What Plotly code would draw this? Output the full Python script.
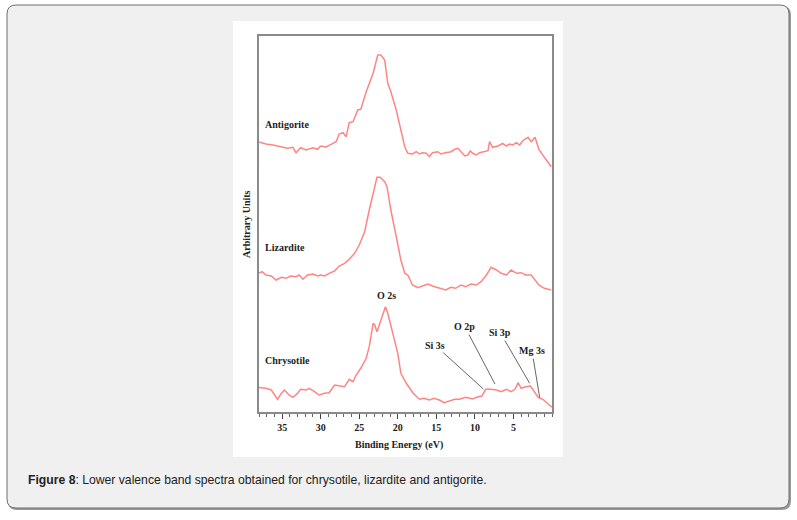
import plotly.graph_objects as go

# ---------------- data (binding energy eV, arbitrary intensity) ----------------
antigorite_e = [38.1, 37.1, 36.2, 35.4, 34.3, 33.6, 33.2, 32.6, 31.9, 31.0, 30.4, 30.0, 29.3, 28.4,
                28.0, 27.6, 27.1, 26.7, 26.3, 25.8, 25.2, 24.8, 24.1, 23.2, 22.6, 22.2, 21.7, 21.3,
                20.9, 20.2, 19.6, 19.1, 18.7, 18.1, 17.6, 17.2, 16.8, 16.3, 15.9, 15.5, 14.8, 14.4,
                13.8, 13.1, 12.6, 12.2, 11.8, 11.3, 10.9, 10.6, 10.3, 9.8, 9.4, 8.7, 8.3, 8.1, 7.7,
                7.0, 6.4, 5.9, 5.5, 5.1, 4.6, 4.2, 3.8, 3.1, 2.7, 2.2, 1.7, 0.9, 0.1]
antigorite_i = [270.3, 268, 267, 265.3, 263.7, 264.7, 259.3, 264.3, 262, 264.3, 262.7, 266, 265, 268.7,
                270.3, 278, 279.3, 275.3, 289.3, 290.3, 302, 302.7, 320.3, 338.7, 357, 357, 352, 328.7,
                320.3, 302, 282, 265.3, 258.7, 258, 260.3, 258, 259.3, 258.7, 255.3, 259.3, 260.3, 258,
                259.3, 260.3, 262.7, 263.7, 260.3, 256, 257, 261, 258.7, 257, 259.3, 261, 261.3, 270.3, 264.7,
                266, 268.7, 266, 268, 267, 269.3, 267, 271.3, 274.7, 270.3, 274.7, 262.7, 253.7, 245.3]

lizardite_e = [38.1, 37.6, 37.1, 36.4, 35.8, 35.1, 34.5, 33.9, 33.2, 32.8, 32.3, 31.7, 31.0, 30.4,
               30.0, 29.5, 28.9, 28.2, 27.6, 26.9, 26.3, 25.6, 25.0, 24.3, 23.7, 23.2, 22.7, 22.3,
               21.7, 21.4, 20.9, 20.2, 19.6, 19.1, 18.7, 18.1, 17.4, 16.8, 16.1, 15.5, 14.6, 13.8,
               13.1, 12.5, 11.8, 11.2, 10.5, 9.8, 9.2, 8.5, 7.9, 7.2, 6.6, 5.9, 5.3, 4.6, 4.0, 3.4,
               2.7, 2.1, 1.7, 1.0, 0.1]
lizardite_i = [138.7, 140.3, 137, 136, 132, 134.7, 133.7, 136, 135.3, 137, 132.7, 137, 138, 136,
               137, 136, 138.7, 141, 146, 148.7, 152.7, 158.7, 167, 180.3, 202, 218.7, 234.7, 234.7,
               230.3, 225.3, 202, 175.3, 152, 138.7, 137, 127, 124.3, 126, 128, 126, 123.7, 122,
               124.7, 123.7, 127, 125.3, 128, 127, 130.3, 137, 144.7, 142, 138.7, 137, 142, 138.7, 139.3, 137,
               137, 131.3, 127, 123.7, 122]

chrysotile_e = [38.1, 37.1, 36.4, 36.0, 35.6, 35.1, 34.7, 34.1, 33.6, 33.0, 32.6, 31.9, 31.5, 30.8,
                30.2, 29.5, 28.9, 28.2, 27.6, 26.9, 26.3, 25.8, 25.4, 24.8, 24.1, 23.7, 23.2, 23.0,
                22.7, 22.4, 21.9, 21.6, 21.3, 20.6, 20.0, 19.6, 18.9, 18.0, 17.2, 16.6, 15.9, 15.3,
                14.6, 14.0, 13.3, 12.6, 12.0, 11.2, 10.3, 9.6, 9.1, 8.6, 7.9, 7.2, 6.6, 5.9, 5.3,
                4.8, 4.4, 4.0, 3.4, 2.8, 2.3, 1.8, 1.2, 0.5, 0.0]
chrysotile_i = [24.7, 23.7, 22, 17, 12.7, 18.7, 22, 17, 14.7, 18.7, 22.7, 22, 23.7, 20.3,
                17, 18.7, 19.3, 27, 26, 25.3, 32.7, 30.3, 37, 43.7, 53.7, 65.3, 88.7, 87,
                80.3, 87, 98.7, 105.3, 98.7, 78.7, 58.7, 38.7, 28.7, 18.7, 12.7, 13.7, 12, 13.7,
                12, 9.3, 11.3, 12.7, 12.7, 14.7, 13, 15.3, 16, 22.7, 22.7, 22, 20.3, 22.7, 20.3,
                22.7, 29.3, 23.7, 25.3, 26, 20.3, 14.7, 12.7, 8, 4.7]

curve_names = ["Antigorite", "Lizardite", "Chrysotile"]
name_pos_e = 37.5
name_pos_i = [287.7, 164.7, 52.0]

x_ticks = [35, 30, 25, 20, 15, 10, 5]

# peak labels: (text, label energy, label intensity, tip energy, tip intensity)
peak_labels = ["Si 3s", "O 2p", "Si 3p", "Mg 3s"]
peak_label_e = [15.2, 11.3, 6.7, 2.6]
peak_label_i = [67.0, 85.3, 79.3, 61.3]
peak_tip_e = [8.9, 7.4, 2.9, 1.6]
peak_tip_i = [23.0, 28.0, 28.7, 14.7]
o2s_e, o2s_i = 21.5, 117.0

# ---------------- layout helpers ----------------
W, H = 797, 520
L, R, T, B = 259, 552, 36, 412


def px(x):
    return (x - L) / (R - L)


def py(y):
    return (B - y) / (B - T)


def rounded_path(x0, y0, x1, y1, r):
    rx = r / (R - L)
    ry = r / (B - T)
    X0, X1 = px(x0), px(x1)
    Y0, Y1 = py(y0), py(y1)  # Y0 top (larger), Y1 bottom
    return (f"M {X0+rx},{Y0} L {X1-rx},{Y0} Q {X1},{Y0} {X1},{Y0-ry} "
            f"L {X1},{Y1+ry} Q {X1},{Y1} {X1-rx},{Y1} L {X0+rx},{Y1} "
            f"Q {X0},{Y1} {X0},{Y1+ry} L {X0},{Y0-ry} Q {X0},{Y0} {X0+rx},{Y0} Z")


LINE_COLOR = "#ff8585"
SERIF = "Liberation Serif"

fig = go.Figure()
for e, i in [(antigorite_e, antigorite_i), (lizardite_e, lizardite_i), (chrysotile_e, chrysotile_i)]:
    fig.add_trace(go.Scatter(x=e, y=i, mode="lines",
                             line=dict(color=LINE_COLOR, width=1.5),
                             showlegend=False, hoverinfo="skip"))

shapes = [
    dict(type="path", xref="paper", yref="paper", path=rounded_path(8, 6, 791, 510, 9),
         fillcolor="#9a9a9a", line=dict(width=0), layer="below"),
    dict(type="path", xref="paper", yref="paper", path=rounded_path(7, 5, 789, 508, 9),
         fillcolor="#f0f0f0", line=dict(color="#6f6f6f", width=1), layer="below"),
    dict(type="rect", xref="paper", yref="paper", x0=px(233), x1=px(563), y0=py(457), y1=py(21),
         fillcolor="white", line=dict(width=0), layer="below"),
]

annotations = []
for name, yi in zip(curve_names, name_pos_i):
    annotations.append(dict(x=name_pos_e, y=yi, xref="x", yref="y", text=name, showarrow=False,
                            xanchor="left", yanchor="middle",
                            font=dict(family=SERIF, size=10, color="#222", weight="bold")))
annotations.append(dict(x=o2s_e, y=o2s_i, xref="x", yref="y", text="O 2s", showarrow=False,
                        xanchor="center", yanchor="middle",
                        font=dict(family=SERIF, size=10, color="#222", weight="bold")))
for t, le, li, te, ti in zip(peak_labels, peak_label_e, peak_label_i, peak_tip_e, peak_tip_i):
    annotations.append(dict(x=te, y=ti, xref="x", yref="y", ax=le, ay=li, axref="x", ayref="y",
                            text=t, showarrow=True, arrowhead=0, arrowwidth=1, arrowcolor="#666",
                            standoff=0, startstandoff=1,
                            font=dict(family=SERIF, size=10, color="#222", weight="bold")))
annotations.append(dict(x=px(246), y=py(224), xref="paper", yref="paper", text="Arbitrary Units",
                        textangle=-90, showarrow=False, xanchor="center", yanchor="middle",
                        font=dict(family=SERIF, size=10, color="#222", weight="bold")))
annotations.append(dict(x=px(399), y=py(445), xref="paper", yref="paper", text="Binding Energy (eV)",
                        showarrow=False, xanchor="center", yanchor="middle",
                        font=dict(family=SERIF, size=10, color="#222", weight="bold")))
annotations.append(dict(x=px(26), y=py(480), xref="paper", yref="paper",
                        text="<b>Figure 8</b>: Lower valence band spectra obtained for chrysotile, lizardite and antigorite.",
                        showarrow=False, xanchor="left", yanchor="middle",
                        font=dict(family="Liberation Sans", size=12.2, color="#222")))

fig.update_layout(
    width=W, height=H,
    margin=dict(l=L, r=W - R, t=T, b=H - B, pad=0),
    paper_bgcolor="white",
    plot_bgcolor="rgba(0,0,0,0)",
    shapes=shapes,
    annotations=annotations,
    xaxis=dict(range=[38, 0], tickvals=x_ticks, ticktext=[str(v) for v in x_ticks],
               ticks="outside", ticklen=5, tickwidth=1, tickcolor="#444",
               minor=dict(dtick=1, ticks="outside", ticklen=3, tickwidth=1, tickcolor="#666"),
               showline=True, linecolor="#8a8a8a", linewidth=2, mirror=True,
               showgrid=False, zeroline=False,
               tickfont=dict(family=SERIF, size=10, color="#222", weight="bold")),
    yaxis=dict(range=[0, 376], showticklabels=False, ticks="", showgrid=False, zeroline=False,
               showline=True, linecolor="#8a8a8a", linewidth=2, mirror=True),
)

fig.write_html("out.html")
